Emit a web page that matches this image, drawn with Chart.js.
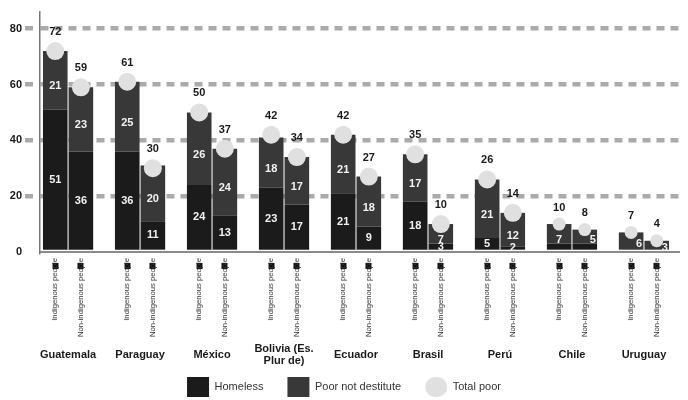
<!DOCTYPE html>
<html>
<head>
<meta charset="utf-8">
<title>Poverty by ethnic condition</title>
<script src="https://cdn.jsdelivr.net/npm/chart.js@4/dist/chart.umd.min.js"></script>
<style>
  html, body { margin: 0; padding: 0; background: #fff; }
  #wrap { position: relative; width: 688px; height: 400px; }
</style>
</head>
<body>
<div id="wrap"><canvas id="chart"></canvas></div>
<script>
/* poverty chart: homeless / poor not destitute / total poor, indigenous vs non-indigenous */
var COUNTRIES = ['Guatemala', 'Paraguay', 'México', ['Bolivia (Es.', 'Plur de)'], 'Ecuador', 'Brasil', 'Perú', 'Chile', 'Uruguay'];
var GROUPS = ['Indigenous people', 'Non-indigenous people'];
var HOMELESS_IND = [51, 36, 24, 23, 21, 18, 5, 3, 1];
var HOMELESS_NON = [36, 11, 13, 17, 9, 3, 2, 3, 1];
var POOR_IND = [21, 25, 26, 18, 21, 17, 21, 7, 6];
var POOR_NON = [23, 20, 24, 17, 18, 7, 12, 5, 3];
var TOTAL_IND = [72, 61, 50, 42, 42, 35, 26, 10, 7];
var TOTAL_NON = [59, 30, 37, 34, 27, 10, 14, 8, 4];
var Y_TICKS = [0, 20, 40, 60, 80];
var NO_HOMELESS_LABEL = ['Chile', 'Uruguay'];
var SMALL_MARKERS = ['Chile', 'Uruguay'];

(function () {
  var FONT = '"Liberation Sans", Arial, sans-serif';
  var OFF = 0.178;           // half distance between the two bars of a country
  var X_MIN = -0.39, X_MAX = 8.487;

  function name(c) { return Array.isArray(c) ? c.join(' ') : c; }
  function pairs(ind, non) {
    var out = [];
    ind.forEach(function (v, i) {
      out.push({ x: i - OFF, y: v });
      out.push({ x: i + OFF, y: non[i] });
    });
    return out;
  }
  function countryOf(x) { return name(COUNTRIES[Math.round(x)]); }
  function markerRadius(c) {
    if (!c.raw) return 9;
    return SMALL_MARKERS.indexOf(countryOf(c.raw.x)) >= 0 ? 6.5 : 9;
  }

  var subTicks = pairs(COUNTRIES, COUNTRIES).map(function (p) { return { value: p.x }; });

  var valueLabels = {
    id: 'valueLabels',
    afterDatasetsDraw: function (chart) {
      var ctx = chart.ctx;
      ctx.save();
      ctx.font = 'bold 11px ' + FONT;
      ctx.textAlign = 'center';
      ctx.textBaseline = 'middle';
      chart.data.datasets.forEach(function (ds, di) {
        var meta = chart.getDatasetMeta(di);
        meta.data.forEach(function (el, j) {
          var v = ds.data[j].y;
          var country = countryOf(ds.data[j].x);
          var mid = (el.y + el.base) / 2;
          if (ds.type === 'line') {
            ctx.fillStyle = '#1a1a1a';
            ctx.fillText(v, el.x, el.y - el.options.radius - 10);
          } else if (di === 0) {
            if (v < 2 || NO_HOMELESS_LABEL.indexOf(country) >= 0) return;
            ctx.fillStyle = '#f2f2f2';
            ctx.fillText(v, el.x, mid);
          } else {
            ctx.fillStyle = '#f2f2f2';
            // short segments: nudge the label right, clear of the total marker
            if (el.base - el.y < 18) ctx.fillText(v, el.x + 8, mid + 3);
            else ctx.fillText(v, el.x, mid + 6);
          }
        });
      });
      ctx.restore();
    }
  };

  new Chart(document.getElementById('chart'), {
    data: {
      datasets: [
        { type: 'bar', label: 'Homeless', data: pairs(HOMELESS_IND, HOMELESS_NON), backgroundColor: '#1b1b1b',
          borderWidth: 0, stack: 's', order: 1, barPercentage: 0.96, categoryPercentage: 1 },
        { type: 'bar', label: 'Poor not destitute', data: pairs(POOR_IND, POOR_NON), backgroundColor: '#383838',
          borderWidth: 0, stack: 's', order: 1, barPercentage: 0.96, categoryPercentage: 1 },
        { type: 'line', label: 'Total poor', data: pairs(TOTAL_IND, TOTAL_NON), showLine: false, stack: 'total', order: 0,
          backgroundColor: '#e0e0e0', borderWidth: 0, pointBackgroundColor: '#e0e0e0', pointBorderWidth: 0,
          pointRadius: markerRadius, pointHoverRadius: markerRadius }
      ]
    },
    options: {
      responsive: true, maintainAspectRatio: false, animation: false,
      layout: { padding: { left: 0, top: 12, right: 0, bottom: -7 } },
      scales: {
        x: {
          type: 'linear', position: 'bottom', min: X_MIN, max: X_MAX, weight: 0, offset: false,
          afterBuildTicks: function (s) { s.ticks = subTicks.slice(); },
          // fit() counts the (negative) padding twice; give one back so labels are not clipped
          afterFit: function (s) { s.height -= s.options.ticks.padding; },
          grid: { display: true, offset: false, drawOnChartArea: false, drawTicks: true, tickLength: 18,
                  tickWidth: 6, tickColor: '#111', tickBorderDash: [0, 10, 6, 10] },
          border: { display: true, color: '#8a8a8a', width: 2 },
          ticks: {
            autoSkip: false, minRotation: 90, maxRotation: 90, padding: -12,
            color: '#333', font: { family: FONT, size: 7.7 },
            callback: function (v, i) { return GROUPS[i % 2]; }
          }
        },
        xc: {
          // country names; mirror keeps them out of the layout height, the larger line height
          // of single-line names centres them on the two-line Bolivia label
          type: 'linear', position: 'bottom', min: X_MIN, max: X_MAX, weight: 1, offset: false,
          afterBuildTicks: function (s) { s.ticks = COUNTRIES.map(function (_, i) { return { value: i }; }); },
          afterFit: function (s) { s.height = 16; },
          grid: { display: false, offset: false }, border: { display: false },
          ticks: {
            autoSkip: false, maxRotation: 0, padding: -18, crossAlign: 'center', mirror: true,
            color: '#1a1a1a',
            font: function (c) {
              return { family: FONT, size: 11, weight: 'bold', lineHeight: Array.isArray(COUNTRIES[c.index]) ? 1.02 : 3.06 };
            },
            callback: function (v, i) { return COUNTRIES[i]; }
          }
        },
        y: {
          stacked: true, min: 0, max: 86,
          afterBuildTicks: function (s) { s.ticks = Y_TICKS.map(function (v) { return { value: v }; }); },
          afterFit: function (s) { s.width = 40; },
          grid: {
            color: function (c) { return c.tick && c.tick.value === 0 ? 'rgba(0,0,0,0)' : '#aaaaaa'; },
            tickColor: function (c) { return c.tick && c.tick.value === 0 ? 'rgba(0,0,0,0)' : '#aaaaaa'; },
            lineWidth: 4.5, tickWidth: 4.5, tickLength: 15, tickBorderDash: [8, 6]
          },
          border: { display: true, color: '#777', width: 1.5, dash: [8, 6] },
          ticks: { padding: 3, color: '#1a1a1a', font: { family: FONT, size: 11, weight: 'bold' } }
        }
      },
      plugins: {
        legend: {
          position: 'bottom',
          labels: {
            boxWidth: 22, boxHeight: 20, padding: 24, color: '#333', font: { family: FONT, size: 11 },
            sort: function (a, b) { return a.datasetIndex - b.datasetIndex; },
            generateLabels: function (chart) {
              var items = Chart.defaults.plugins.legend.labels.generateLabels(chart);
              items.forEach(function (it) {
                it.lineWidth = 0;
                if (it.datasetIndex === 2) it.borderRadius = 10;
              });
              return items;
            }
          }
        },
        tooltip: { enabled: false }
      }
    },
    plugins: [valueLabels]
  });
})();
</script>
</body>
</html>
